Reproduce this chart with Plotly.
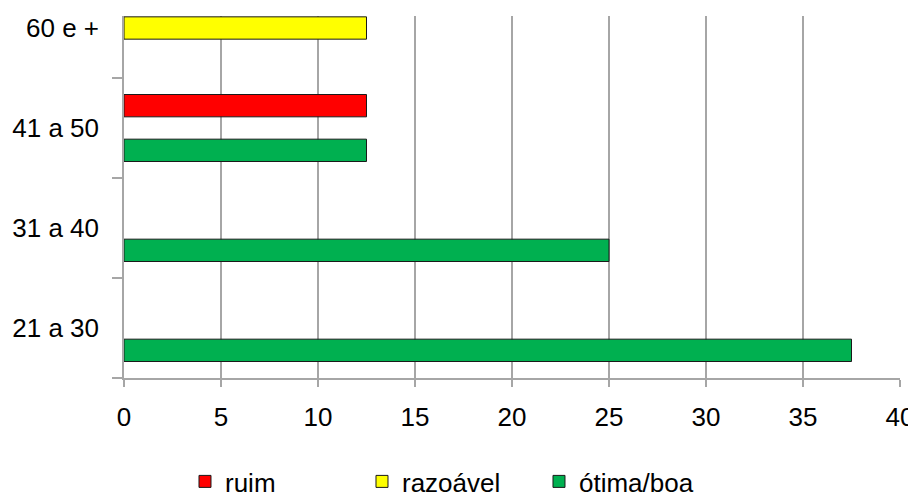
import plotly.graph_objects as go

categories = ["21 a 30", "31 a 40", "41 a 50", "60 e +"]
ruim = [0, 0, 12.5, 0]
razoavel = [0, 0, 0, 12.5]
otima_boa = [37.5, 25, 12.5, 0]
x_ticks = [0, 5, 10, 15, 20, 25, 30, 35, 40]

FONT = "Liberation Sans, Arial, sans-serif"


def shown(values):
    # zero-length bars are not drawn in the reference (no outline stub)
    return [v if v else None for v in values]


fig = go.Figure()
fig.add_trace(go.Bar(y=categories, x=shown(otima_boa), name="ótima/boa", orientation="h",
                     marker=dict(color="#00B050", line=dict(color="#1a1a1a", width=1))))
fig.add_trace(go.Bar(y=categories, x=shown(razoavel), name="razoável", orientation="h",
                     marker=dict(color="#FFFF00", line=dict(color="#1a1a1a", width=1))))
fig.add_trace(go.Bar(y=categories, x=shown(ruim), name="ruim", orientation="h",
                     marker=dict(color="#FF0000", line=dict(color="#1a1a1a", width=1))))

# the page adds an 8px body margin, so the figure is 8px smaller and laid out 8px up/left
fig.update_layout(
    width=908, height=485,
    margin=dict(l=116, r=16, t=8, b=115, autoexpand=False),
    paper_bgcolor="white", plot_bgcolor="white",
    barmode="group", bargap=0.33, bargroupgap=0,
    font=dict(family=FONT, size=26, color="black"),
    showlegend=True,
    legend=dict(orientation="h", traceorder="reversed", x=0.0786, xanchor="left",
                y=-0.221, yanchor="top", font=dict(size=26), entrywidth=132,
                itemwidth=30, bgcolor="rgba(0,0,0,0)"),
    xaxis=dict(range=[0, 40], tickvals=x_ticks, showgrid=True, gridcolor="#A6A6A6",
               gridwidth=1.5, zeroline=False, showline=True, linecolor="#A6A6A6",
               linewidth=1.5, ticks="outside", ticklen=7, tickcolor="#A6A6A6",
               tickwidth=1.5, ticklabelstandoff=8, automargin=False, fixedrange=True),
    yaxis=dict(type="category", categoryarray=categories, range=[-0.5, 3.12],
               showgrid=False, zeroline=False, showline=True, linecolor="#A6A6A6",
               linewidth=1.5, ticks="outside", tickson="boundaries", ticklen=10,
               tickcolor="#A6A6A6", tickwidth=1.5, ticklabelstandoff=18,
               automargin=False, fixedrange=True),
)

fig.write_html("out.html", post_script="document.body.style.overflow='hidden';")
